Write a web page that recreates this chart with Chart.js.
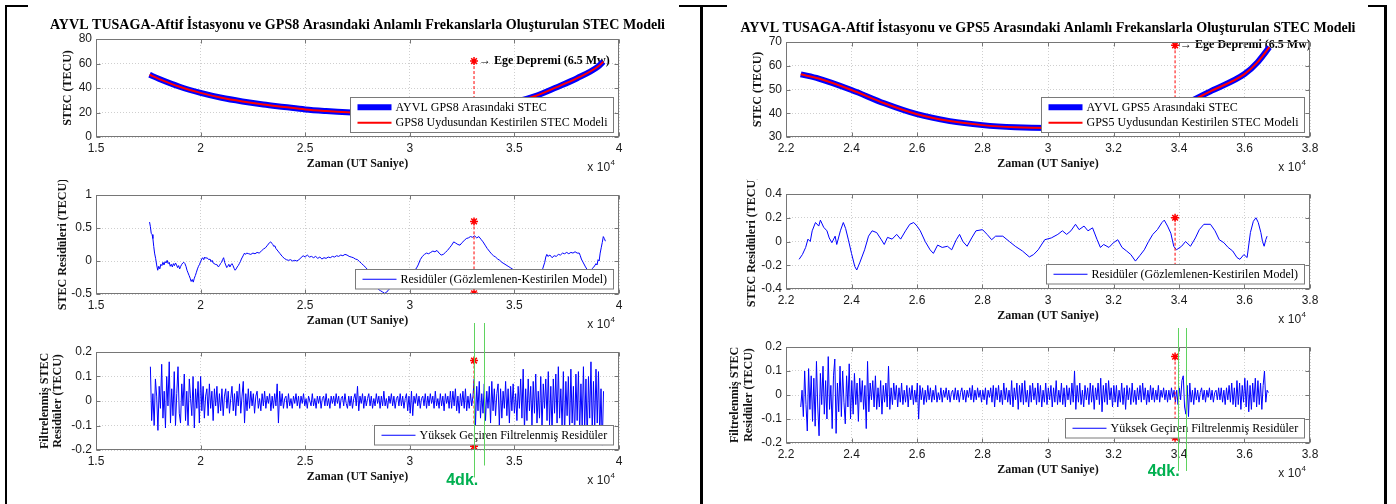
<!DOCTYPE html>
<html>
<head>
<meta charset="utf-8">
<title>STEC Modeli</title>
<script src="https://cdn.jsdelivr.net/npm/chart.js@4.4.1/dist/chart.umd.min.js"></script>
<style>
  html, body { margin: 0; padding: 0; background: #fff; }
  body { position: relative; width: 1396px; height: 504px; overflow: hidden; }
  canvas { position: absolute; }
  .cizgi { position: absolute; background: #000; z-index: 5; }
</style>
</head>
<body>
<canvas id="sol1"></canvas>
<canvas id="sol2"></canvas>
<canvas id="sol3"></canvas>
<canvas id="sag1"></canvas>
<canvas id="sag2"></canvas>
<canvas id="sag3"></canvas>

<div class="cizgi" style="left:5px;top:5px;width:2px;height:499px"></div>
<div class="cizgi" style="left:700px;top:5px;width:3px;height:499px"></div>
<div class="cizgi" style="left:1384px;top:5px;width:3px;height:499px"></div>
<div class="cizgi" style="left:5px;top:5px;width:23px;height:2px"></div>
<div class="cizgi" style="left:679px;top:5px;width:48px;height:2px"></div>
<div class="cizgi" style="left:1368px;top:5px;width:19px;height:2px"></div>

<script>
// zaman degerleri x 10^4 UT saniye
const eqTimeL = 3.307;   // Ege depremi, GPS8 paneli
const eqTimeR = 3.388;   // Ege depremi, GPS5 paneli

// ust grafikler: STEC (TECU)
const stecTimeL  = [1.756,1.8,1.9,2.0,2.1,2.2,2.3,2.4,2.5,2.6,2.7,2.8,2.9,3.0,3.1,3.2,3.3,3.4,3.5,3.6,3.7,3.8,3.9,3.925];
const stecObsL   = [50.8,47.5,41,36,32,29,26.5,24.5,22.5,21.2,20.2,19.6,19.3,19.3,19.7,20.5,22,24.5,28.5,33.5,40.5,48,57.5,61.5];
const stecModelL = [50.8,47.5,41,36,32,29,26.5,24.5,22.5,21.2,20.2,19.6,19.3,19.3,19.7,20.5,22,24.5,28.5,33.5,40.5,48,57.5,61.5];

const stecTimeR  = [2.245,2.3,2.4,2.5,2.6,2.7,2.8,2.9,3.0,3.1,3.2,3.3,3.4,3.5,3.6,3.64,3.676];
const stecObsR   = [56.4,54.6,49.8,44.2,39.6,36.7,35.0,34.1,33.8,34.3,35.8,38.6,42.8,49.5,56.5,61.5,67.8];
const stecModelR = [56.4,54.6,49.8,44.2,39.6,36.7,35.0,34.1,33.8,34.3,35.8,38.6,42.8,49.5,56.5,61.5,67.8];

// orta grafikler: residuler [zaman, TECU]
const resL = [[1.756,0.59],[1.76,0.52],[1.764,0.42],[1.768,0.40],[1.772,0.34],[1.776,0.22],[1.78,0.12],[1.785,0.04],
  [1.79,-0.06],[1.795,-0.14],[1.8,-0.08],[1.805,-0.12],[1.81,-0.05],[1.815,-0.07],[1.82,-0.02],[1.825,-0.06],[1.83,-0.01],
  [1.835,-0.03],[1.84,0.01],[1.845,-0.04],[1.85,-0.02],[1.855,-0.08],[1.86,-0.05],[1.865,-0.09],[1.87,-0.04],[1.875,-0.07],
  [1.88,-0.03],[1.885,-0.06],[1.89,-0.10],[1.895,-0.07],[1.9,-0.12],[1.905,-0.08],[1.91,-0.05],[1.915,-0.03],[1.92,-0.02],
  [1.925,-0.04],[1.93,-0.08],[1.935,-0.14],[1.94,-0.18],[1.945,-0.22],[1.95,-0.26],[1.955,-0.31],[1.96,-0.28],[1.965,-0.32],
  [1.97,-0.26],[1.975,-0.22],[1.98,-0.17],[1.985,-0.12],[1.99,-0.08],[1.995,-0.05],[2.0,-0.01],[2.005,0.03],[2.01,0.05],
  [2.015,0.02],[2.02,0.06],[2.025,0.04],[2.03,0.05],[2.04,0.02],[2.045,0.03],[2.05,-0.01],[2.055,0.01],[2.06,-0.03],
  [2.07,-0.05],[2.08,-0.06],[2.085,-0.09],[2.09,-0.07],[2.095,-0.04],[2.1,-0.02],[2.105,0.02],[2.11,0.05],[2.115,-0.02],
  [2.12,-0.06],[2.125,-0.10],[2.13,-0.08],[2.135,-0.05],[2.14,-0.09],[2.145,-0.06],[2.15,-0.04],[2.155,-0.07],[2.16,-0.11],
  [2.165,-0.14],[2.17,-0.12],[2.175,-0.09],[2.18,-0.07],[2.185,-0.04],[2.19,-0.01],[2.195,0.03],[2.2,0.06],[2.205,0.09],
  [2.21,0.12],[2.215,0.10],[2.22,0.12],[2.23,0.11],[2.24,0.10],[2.25,0.12],[2.26,0.11],[2.27,0.13],[2.28,0.12],[2.29,0.15],
  [2.3,0.18],[2.31,0.20],[2.32,0.24],[2.33,0.28],[2.335,0.29],[2.34,0.27],[2.345,0.25],[2.35,0.22],[2.355,0.23],[2.36,0.19],
  [2.37,0.15],[2.38,0.11],[2.39,0.07],[2.4,0.04],[2.41,0.02],[2.42,0.01],[2.43,0.02],[2.44,0.0],[2.45,0.01],[2.46,0.0],
  [2.47,0.02],[2.48,0.05],[2.49,0.08],[2.5,0.06],[2.51,0.09],[2.52,0.06],[2.53,0.07],[2.54,0.05],[2.55,0.07],[2.56,0.04],
  [2.57,0.06],[2.58,0.03],[2.59,0.05],[2.6,0.04],[2.61,0.06],[2.62,0.05],[2.63,0.07],[2.64,0.06],[2.65,0.08],[2.66,0.07],
  [2.67,0.09],[2.68,0.08],[2.69,0.10],[2.7,0.09],[2.71,0.07],[2.72,0.06],[2.73,0.05],[2.74,0.03],[2.75,0.02],[2.76,-0.01],
  [2.77,-0.04],[2.78,-0.07],[2.79,-0.10],[2.8,-0.14],[2.81,-0.20],[2.82,-0.28],[2.83,-0.34],[2.84,-0.39],[2.85,-0.43],
  [2.86,-0.45],[2.87,-0.47],[2.88,-0.49],[2.89,-0.47],[2.9,-0.43],[2.91,-0.40],[2.92,-0.36],[2.93,-0.33],[2.95,-0.28],
  [2.97,-0.24],[2.99,-0.20],[3.01,-0.16],[3.03,-0.12],[3.04,-0.06],[3.05,0.02],[3.06,0.07],[3.07,0.10],[3.08,0.12],
  [3.09,0.11],[3.1,0.13],[3.11,0.15],[3.12,0.14],[3.13,0.16],[3.14,0.12],[3.15,0.09],[3.16,0.10],[3.17,0.13],[3.18,0.16],
  [3.19,0.20],[3.2,0.24],[3.21,0.29],[3.22,0.27],[3.23,0.25],[3.24,0.24],[3.25,0.28],[3.26,0.31],[3.27,0.34],[3.28,0.35],
  [3.29,0.37],[3.3,0.36],[3.31,0.38],[3.32,0.35],[3.33,0.37],[3.34,0.33],[3.35,0.29],[3.36,0.24],[3.37,0.19],[3.38,0.15],
  [3.39,0.11],[3.4,0.08],[3.41,0.06],[3.42,0.03],[3.43,0.01],[3.44,-0.02],[3.45,-0.04],[3.46,-0.06],[3.47,-0.08],
  [3.48,-0.10],[3.49,-0.12],[3.51,-0.18],[3.54,-0.24],[3.57,-0.27],[3.6,-0.24],[3.62,-0.18],[3.635,-0.12],[3.645,-0.02],
  [3.65,0.06],[3.655,0.10],[3.66,0.07],[3.67,0.09],[3.68,0.05],[3.69,0.08],[3.7,0.07],[3.71,0.10],[3.72,0.09],[3.73,0.12],
  [3.74,0.11],[3.75,0.13],[3.76,0.11],[3.77,0.13],[3.78,0.12],[3.79,0.14],[3.8,0.12],[3.81,0.12],[3.815,0.08],[3.82,0.03],
  [3.83,-0.03],[3.84,-0.09],[3.85,-0.14],[3.86,-0.16],[3.87,-0.12],[3.88,-0.09],[3.89,-0.04],[3.895,-0.06],[3.9,0.02],
  [3.905,0.0],[3.91,0.12],[3.915,0.20],[3.92,0.28],[3.925,0.37],[3.93,0.34],[3.935,0.30]];

const resR = [[2.24,-0.15],[2.25,-0.11],[2.26,-0.05],[2.267,0.02],[2.274,0.0],[2.28,0.09],[2.29,0.16],[2.3,0.13],[2.305,0.18],
  [2.315,0.12],[2.325,0.09],[2.332,0.03],[2.34,-0.01],[2.35,0.045],[2.355,-0.025],[2.366,0.09],[2.375,0.16],[2.382,0.11],
  [2.39,0.02],[2.4,-0.10],[2.41,-0.21],[2.416,-0.24],[2.425,-0.18],[2.44,-0.07],[2.452,0.045],[2.463,0.09],[2.477,0.075],
  [2.49,0.02],[2.5,-0.025],[2.51,0.035],[2.524,0.02],[2.538,0.06],[2.55,0.02],[2.565,0.09],[2.578,0.145],[2.59,0.16],
  [2.6,0.13],[2.61,0.09],[2.625,0.0],[2.64,-0.07],[2.65,-0.10],[2.663,-0.03],[2.677,-0.05],[2.693,-0.04],[2.706,-0.07],
  [2.72,0.015],[2.73,0.06],[2.74,0.0],[2.753,-0.04],[2.767,0.03],[2.78,0.09],[2.8,0.10],[2.814,0.06],[2.828,0.015],
  [2.84,0.045],[2.862,0.045],[2.882,0.0],[2.9,-0.04],[2.922,-0.08],[2.943,-0.13],[2.956,-0.11],[2.97,-0.07],[2.99,0.015],
  [3.01,0.03],[3.03,0.06],[3.044,0.09],[3.057,0.06],[3.07,0.09],[3.084,0.145],[3.095,0.10],[3.11,0.13],[3.122,0.09],
  [3.136,0.115],[3.15,0.015],[3.16,-0.05],[3.17,-0.025],[3.186,-0.05],[3.2,-0.01],[3.213,0.015],[3.226,-0.05],[3.24,-0.08],
  [3.253,-0.11],[3.267,-0.165],[3.28,-0.12],[3.294,-0.07],[3.307,0.0],[3.32,0.06],[3.334,0.10],[3.348,0.16],[3.355,0.18],
  [3.365,0.13],[3.375,0.07],[3.384,-0.04],[3.392,-0.07],[3.408,-0.04],[3.42,0.0],[3.435,-0.04],[3.45,0.03],[3.462,0.10],
  [3.476,0.145],[3.496,0.145],[3.51,0.09],[3.523,0.015],[3.537,-0.01],[3.55,-0.05],[3.564,-0.08],[3.577,-0.135],
  [3.586,-0.15],[3.598,-0.11],[3.608,-0.135],[3.618,0.075],[3.627,0.17],[3.635,0.20],[3.642,0.16],[3.65,0.075],[3.655,0.0],
  [3.66,-0.04],[3.665,0.015],[3.669,0.045]];

// alt grafikler: yuksek geciren filtrelenmis residuler (duzenli ornekleme)
const filtStartL = 1.76, filtStepL = 0.006;
const filtL = [
  0.14,-0.08,0.03,-0.10,0.09,0.02,-0.12,0.06,-0.03,0.15,-0.07,0.04,-0.11,0.10,-0.02,0.16,-0.09,0.05,-0.06,0.12,
  -0.10,0.03,0.14,-0.05,-0.09,0.07,-0.02,0.11,-0.08,0.04,-0.10,0.09,0.01,-0.06,0.10,-0.11,0.05,-0.03,0.08,-0.09,
  0.10,-0.04,0.06,-0.07,0.02,0.05,-0.06,0.07,-0.03,0.04,-0.08,0.05,-0.02,0.06,-0.05,0.03,-0.04,0.05,-0.06,0.02,
  0.05,-0.03,0.04,-0.05,0.01,0.06,-0.04,0.03,-0.06,0.04,-0.02,0.07,-0.05,0.02,0.08,-0.09,0.03,-0.04,0.05,-0.03,
  0.04,-0.02,0.03,-0.05,0.02,0.04,-0.03,0.01,-0.04,0.03,-0.02,0.04,-0.03,0.02,-0.01,0.03,-0.04,0.02,-0.03,0.03,
  -0.02,0.07,-0.09,0.04,-0.02,0.03,-0.03,0.01,0.02,-0.03,0.03,-0.02,0.01,-0.03,0.02,-0.01,0.03,-0.02,0.02,-0.03,
  0.02,-0.01,0.03,-0.02,0.01,-0.03,0.02,0.00,-0.02,0.03,-0.02,0.01,-0.03,0.02,-0.01,0.02,-0.03,0.01,0.02,-0.02,
  0.03,-0.02,0.01,-0.03,0.02,-0.01,0.02,-0.02,0.03,-0.01,0.02,-0.03,0.01,0.02,-0.02,0.03,-0.01,-0.03,0.02,-0.02,
  0.02,-0.03,0.01,0.03,-0.02,0.06,-0.04,0.02,-0.01,0.03,-0.03,0.02,-0.02,0.01,0.03,-0.02,0.02,-0.03,0.01,-0.02,
  0.03,-0.01,0.02,-0.03,0.02,-0.02,0.04,-0.02,0.01,-0.03,0.02,-0.01,0.03,-0.02,0.02,-0.03,0.01,0.02,-0.02,0.03,
  -0.02,0.02,-0.03,0.01,0.03,-0.04,0.02,-0.05,0.04,-0.06,0.02,-0.01,0.03,-0.02,0.02,-0.03,0.01,0.02,-0.02,0.03,
  -0.03,0.02,-0.02,0.03,-0.01,0.02,-0.03,0.04,-0.02,0.01,-0.03,0.03,-0.02,0.02,-0.04,0.03,-0.01,0.02,-0.03,0.04,
  -0.03,0.04,-0.02,0.05,-0.04,0.02,-0.05,0.03,-0.02,0.04,-0.03,0.05,-0.04,0.02,-0.03,0.03,-0.02,0.02,0.09,-0.10,
  0.06,-0.04,0.08,-0.07,0.03,-0.05,0.07,-0.08,0.04,-0.03,0.06,-0.09,0.08,-0.04,0.05,-0.06,0.03,0.07,-0.10,0.05,
  -0.07,0.04,-0.03,0.08,-0.06,0.05,-0.09,0.06,-0.04,0.07,-0.05,0.03,-0.08,0.06,-0.03,0.09,-0.07,0.13,-0.12,0.05,
  -0.08,0.09,-0.04,0.06,-0.10,0.08,-0.05,0.11,-0.09,0.04,-0.07,0.10,-0.12,0.07,-0.03,0.09,-0.08,0.12,-0.10,0.06,
  -0.13,0.09,-0.05,0.11,-0.09,0.14,-0.07,0.05,-0.11,0.12,-0.14,0.08,-0.06,0.10,-0.12,0.13,-0.09,0.06,-0.15,0.11,
  -0.08,0.12,-0.13,0.07,-0.10,0.14,-0.12,0.09,-0.16,0.10,-0.07,0.16,-0.13,0.08,-0.11,0.13,-0.09,0.12,-0.14,0.05,
  -0.18,0.04];

const filtStartR = 2.245, filtStepR = 0.004;
const filtR = [
  -0.05,0.02,-0.09,0.10,-0.04,-0.15,0.11,-0.06,0.08,-0.11,0.07,-0.13,0.14,-0.05,-0.17,0.09,-0.04,0.12,-0.08,0.06,
  -0.10,0.16,-0.06,0.04,-0.14,0.08,0.15,-0.16,0.05,-0.07,0.12,-0.09,0.10,-0.03,-0.12,0.08,-0.05,0.13,-0.10,0.06,
  -0.08,0.09,-0.04,0.05,-0.11,0.07,-0.03,0.06,-0.06,0.04,-0.14,0.14,-0.07,0.05,-0.02,0.06,-0.05,0.08,-0.06,0.03,
  -0.05,0.06,-0.08,0.04,-0.03,0.05,-0.05,0.12,-0.06,0.03,-0.04,0.05,-0.02,0.04,-0.05,0.03,-0.03,0.05,-0.04,0.02,
  -0.03,0.04,-0.05,0.03,-0.02,0.04,-0.04,0.02,-0.03,0.05,-0.10,0.04,-0.02,0.03,-0.04,0.02,-0.03,0.04,-0.02,0.03,
  -0.03,0.02,-0.02,0.04,-0.03,0.01,-0.02,0.03,-0.03,0.02,-0.01,0.03,-0.02,0.02,-0.03,0.01,0.02,-0.02,0.03,-0.02,
  0.02,-0.03,0.01,0.03,-0.02,0.02,-0.03,0.02,-0.01,0.03,-0.02,0.04,-0.03,0.02,-0.02,0.03,-0.01,0.02,-0.03,0.02,
  -0.02,0.03,-0.04,0.02,-0.01,0.03,-0.03,0.04,-0.05,0.03,-0.02,0.04,-0.03,0.02,-0.04,0.05,-0.02,0.03,-0.03,0.02,
  -0.04,0.06,-0.05,0.03,-0.02,0.05,-0.06,0.04,-0.03,0.05,-0.04,0.06,-0.03,0.02,-0.05,0.04,-0.03,0.05,-0.02,0.03,
  -0.04,0.05,-0.03,0.04,-0.05,0.02,-0.03,0.05,-0.04,0.03,-0.02,0.04,-0.05,0.03,-0.03,0.06,-0.04,0.02,-0.03,0.05,
  -0.04,0.03,-0.05,0.04,-0.02,0.03,-0.04,0.05,-0.03,0.10,-0.06,0.04,-0.03,0.05,-0.04,0.02,-0.05,0.04,-0.02,0.03,
  -0.04,0.05,-0.03,0.04,-0.06,0.03,-0.02,0.05,-0.04,0.07,-0.07,0.04,-0.03,0.05,-0.04,0.06,-0.02,0.03,-0.05,0.04,
  -0.03,0.04,-0.05,0.02,-0.03,0.05,-0.04,0.03,-0.06,0.04,-0.02,0.03,-0.04,0.05,-0.03,0.02,-0.04,0.03,-0.02,0.04,
  -0.03,0.05,-0.02,0.03,-0.04,0.02,-0.03,0.04,-0.02,0.03,-0.03,0.02,-0.02,0.04,-0.03,0.02,-0.01,0.03,-0.02,0.02,
  -0.03,0.02,-0.02,0.03,-0.01,0.02,-0.03,0.02,-0.04,0.03,-0.02,0.06,0.08,-0.05,-0.08,0.04,-0.09,0.05,-0.03,0.02,
  -0.04,0.03,-0.02,0.02,-0.03,0.01,0.03,-0.02,0.02,-0.03,0.02,-0.01,0.03,-0.02,0.02,-0.03,0.01,0.02,-0.02,0.03,
  -0.02,0.03,-0.03,0.02,-0.04,0.03,-0.02,0.04,-0.03,0.05,-0.04,0.03,-0.05,0.06,-0.04,0.05,-0.06,0.04,-0.03,0.07,
  -0.05,0.06,-0.07,0.04,-0.06,0.05,-0.03,0.07,-0.05,0.06,-0.04,0.05,-0.06,0.04,0.10,-0.03,0.02,0.01];

// deprem isaretleri (yildiz uclari, TECU)
const eqMarkL1 = [62, 22],   eqMarkL2 = [0.6, -0.49],  eqMarkL3 = [0.165, -0.185];
const eqMarkR1 = [68.6, 40], eqMarkR2 = [0.2, -0.3],   eqMarkR3 = [0.16, -0.178];
// 4 dakikalik pencere
const winL = [3.308, 3.354];
const winR = [3.396, 3.4205];

const SERIF = "'Liberation Serif', 'Times New Roman', serif";
const SANS = "'Liberation Sans', Arial, sans-serif";
const MAVI = '#0000ff', KIRMIZI = '#ff0000', YESIL = '#5fd35f';

function ciftler(p) { return p.map(v => ({ x: v[0], y: v[1] })); }
function birlestir(xs, ys) { return xs.map((x, i) => ({ x: x, y: ys[i] })); }
function duzenli(bas, adim, d) { return d.map((v, i) => ({ x: bas + i * adim, y: v })); }

function depremCizgisi(t, uclar, yaricap) {
  return {
    data: [{ x: t, y: uclar[0] }, { x: t, y: uclar[1] }],
    borderColor: KIRMIZI, borderWidth: 1, borderDash: [3, 2],
    pointStyle: 'star', pointRadius: yaricap, pointBorderColor: KIRMIZI,
    pointBorderWidth: 1.5, pointBackgroundColor: KIRMIZI
  };
}

function etiket(v) { return String(Math.round(v * 100) / 100); }

// MATLAB gorunumu: kutu, ic tikler, lejant, baslik, x 10^4
function matlabSus(ayar) {
  return {
    id: 'matlabSus',
    beforeDatasetsDraw(chart) {
      if (!ayar.deprem) return;
      const { ctx, scales: { x, y } } = chart;
      ctx.save();
      ctx.font = 'bold 12px ' + SERIF;
      ctx.fillStyle = '#000';
      ctx.textBaseline = 'middle';
      ctx.textAlign = 'left';
      ctx.fillText('\u2192 Ege Depremi (6.5 Mw)', x.getPixelForValue(ayar.deprem[0]) + 5, y.getPixelForValue(ayar.deprem[1]));
      ctx.restore();
    },
    afterDatasetsDraw(chart) {
      const { ctx, chartArea: a, scales: { x, y } } = chart;
      ctx.save();
      ctx.strokeStyle = '#767676';
      ctx.lineWidth = 1;
      const L = Math.round(a.left) + 0.5, R = Math.round(a.right) - 0.5;
      const T = Math.round(a.top) + 0.5, B = Math.round(a.bottom) - 0.5;
      ctx.strokeRect(L, T, R - L, B - T);
      ctx.beginPath();
      x.ticks.forEach(t => {
        const p = Math.round(x.getPixelForValue(t.value)) + 0.5;
        ctx.moveTo(p, B); ctx.lineTo(p, B - 4);
        ctx.moveTo(p, T); ctx.lineTo(p, T + 4);
      });
      y.ticks.forEach(t => {
        const p = Math.round(y.getPixelForValue(t.value)) + 0.5;
        ctx.moveTo(L, p); ctx.lineTo(L + 4, p);
        ctx.moveTo(R, p); ctx.lineTo(R - 4, p);
      });
      ctx.stroke();

      // lejant (sag alt, ic)
      const lj = ayar.lejant;
      ctx.font = '12px ' + SERIF;
      const tw = Math.max(...lj.map(e => ctx.measureText(e.label).width));
      const w = Math.round(45 + tw + 6), h = 4 + 15.5 * lj.length;
      const bx = Math.round(a.right - 6.5 - w) + 0.5, by = Math.round(a.bottom - 5.5 - h) + 0.5;
      ctx.fillStyle = '#fff';
      ctx.fillRect(bx, by, w, h);
      ctx.strokeStyle = '#7a7a7a';
      ctx.strokeRect(bx, by, w, h);
      lj.forEach((e, i) => {
        const cy = by + 9.75 + 15.5 * i;
        ctx.strokeStyle = e.color;
        ctx.lineWidth = e.width;
        ctx.beginPath(); ctx.moveTo(bx + 7, cy); ctx.lineTo(bx + 41, cy); ctx.stroke();
        ctx.fillStyle = '#000';
        ctx.textBaseline = 'middle';
        ctx.textAlign = 'left';
        ctx.fillText(e.label, bx + 45, cy + 0.5);
      });
      ctx.restore();
    },
    afterDraw(chart) {
      const { ctx, chartArea: a, scales: { x } } = chart;
      ctx.save();
      ctx.fillStyle = '#222';
      ctx.textBaseline = 'middle';
      ctx.font = '8px ' + SANS;
      const sw = ctx.measureText('4').width;
      ctx.textAlign = 'left';
      ctx.fillText('4', a.right - 4 - sw, a.bottom + 26);
      ctx.font = '12px ' + SANS;
      ctx.textAlign = 'right';
      ctx.fillText('x 10', a.right - 4.5 - sw, a.bottom + 31);

      if (ayar.baslik) {
        ctx.font = 'bold 100px ' + SERIF;
        const w100 = ctx.measureText(ayar.baslik).width;
        ctx.font = 'bold ' + (100 * 615 / w100).toFixed(2) + 'px ' + SERIF;
        ctx.fillStyle = '#000';
        ctx.textAlign = 'center';
        ctx.fillText(ayar.baslik, (a.left + a.right) / 2, a.top - 14);
      }

      if (ayar.pencere) {
        const p = ayar.pencere;
        ctx.strokeStyle = YESIL;
        ctx.lineWidth = 1;
        p.x.forEach((v, i) => {
          const px = Math.round(x.getPixelForValue(v)) + 0.5;
          ctx.beginPath(); ctx.moveTo(px, a.top + p.ust); ctx.lineTo(px, a.bottom + p.alt[i]); ctx.stroke();
        });
        ctx.font = 'bold 16px ' + SANS;
        ctx.fillStyle = '#00b050';
        ctx.textAlign = 'right';
        ctx.fillText('4dk.', x.getPixelForValue(p.x[0]) + p.dx, a.bottom + p.dy);
      }
      ctx.restore();
    }
  };
}

function grafik(id, alan, ayar) {
  const padTop = ayar.padTop, padBottom = ayar.padBottom || 0;
  const cv = document.getElementById(id);
  cv.width = (alan.r - alan.l) + 90 + 70;
  cv.height = padTop + (alan.b - alan.t) + 40 + padBottom;
  cv.style.left = (alan.l - 90) + 'px';
  cv.style.top = (alan.t - padTop) + 'px';
  const tikFont = { family: SANS, size: 12 };
  return new Chart(cv, {
    type: 'line',
    data: { datasets: ayar.datasets },
    options: {
      responsive: false,
      animation: false,
      layout: { padding: { left: 0, right: 70, top: padTop, bottom: padBottom } },
      plugins: { legend: { display: false }, tooltip: { enabled: false } },
      elements: { point: { radius: 0 }, line: { tension: 0 } },
      scales: {
        x: {
          type: 'linear', min: ayar.x[0], max: ayar.x[1],
          ticks: { stepSize: ayar.x[2], padding: 4, font: tikFont, color: '#1a1a1a', callback: etiket, autoSkip: false, maxRotation: 0 },
          grid: { color: '#cfcfcf', drawTicks: false },
          border: { display: false, dash: [1, 2] },
          title: { display: true, text: 'Zaman (UT Saniye)', color: '#111',
                   font: { family: SERIF, size: 12, weight: 'bold', lineHeight: 1.2 }, padding: { top: 0, bottom: 6.3 } },
          afterFit(s) { s.height = 40; }
        },
        y: {
          type: 'linear', min: ayar.y[0], max: ayar.y[1],
          ticks: { stepSize: ayar.y[2], padding: 4, font: tikFont, color: '#1a1a1a', callback: etiket },
          grid: { color: '#cfcfcf', drawTicks: false },
          border: { display: false, dash: [1, 2] },
          title: { display: true, text: ayar.yBaslik, color: '#111',
                   font: { family: SERIF, size: 12, weight: 'bold', lineHeight: 1.12 }, padding: { top: ayar.yBaslikX - 6.72, bottom: 0 } },
          afterFit(s) { s.width = 90; }
        }
      }
    },
    plugins: [matlabSus(ayar)]
  });
}

const baslikL = 'AYVL TUSAGA-Aftif \u0130stasyonu ve GPS8 Aras\u0131ndaki Anlaml\u0131 Frekanslarla Olu\u015fturulan STEC Modeli';
const baslikR = 'AYVL TUSAGA-Aftif \u0130stasyonu ve GPS5 Aras\u0131ndaki Anlaml\u0131 Frekanslarla Olu\u015fturulan STEC Modeli';
const resLabel = 'Resid\u00fcler (G\u00f6zlemlenen-Kestirilen Model)';
const filtLabel = 'Y\u00fcksek Ge\u00e7iren Filtrelenmi\u015f Resid\u00fcler';
const filtYTitle = ['Filtrelenmi\u015f STEC', 'Resid\u00fcler (TECU)'];

// ---- sol panel (GPS8) ----
grafik('sol1', { l: 96, r: 619, t: 39, b: 137 }, {
  padTop: 39, x: [1.5, 4, 0.5], y: [0, 80, 20], yBaslik: 'STEC (TECU)', yBaslikX: 62,
  baslik: baslikL, deprem: [eqTimeL, eqMarkL1[0]],
  datasets: [
    depremCizgisi(eqTimeL, eqMarkL1, [4, 0]),
    { data: birlestir(stecTimeL, stecModelL), borderColor: KIRMIZI, borderWidth: 2, cubicInterpolationMode: 'monotone' },
    { data: birlestir(stecTimeL, stecObsL), borderColor: MAVI, borderWidth: 6, cubicInterpolationMode: 'monotone' }
  ],
  lejant: [
    { label: 'AYVL GPS8 Aras\u0131ndaki STEC', color: MAVI, width: 6 },
    { label: 'GPS8 Uydusundan Kestirilen STEC Modeli', color: KIRMIZI, width: 2 }
  ]
});

grafik('sol2', { l: 96, r: 619, t: 195, b: 294 }, {
  padTop: 15, x: [1.5, 4, 0.5], y: [-0.5, 1, 0.5], yBaslik: 'STEC Resid\u00fcleri (TECU)', yBaslikX: 56.5,
  datasets: [
    depremCizgisi(eqTimeL, eqMarkL2, [4, 4]),
    { data: ciftler(resL), borderColor: MAVI, borderWidth: 1 }
  ],
  lejant: [{ label: resLabel, color: MAVI, width: 1 }]
});

grafik('sol3', { l: 96, r: 619, t: 352, b: 450 }, {
  padTop: 32, padBottom: 16, x: [1.5, 4, 0.5], y: [-0.2, 0.2, 0.1], yBaslik: filtYTitle, yBaslikX: 38.6,
  datasets: [
    depremCizgisi(eqTimeL, eqMarkL3, [4, 4]),
    { data: duzenli(filtStartL, filtStepL, filtL), borderColor: MAVI, borderWidth: 1 }
  ],
  lejant: [{ label: filtLabel, color: MAVI, width: 1 }],
  pencere: { x: winL, ust: -29, alt: [27.5, 15.5], dx: 4, dy: 31 }
});

// ---- sag panel (GPS5) ----
grafik('sag1', { l: 786, r: 1310, t: 42, b: 137 }, {
  padTop: 42, x: [2.2, 3.8, 0.2], y: [30, 70, 10], yBaslik: 'STEC (TECU)', yBaslikX: 62.3,
  baslik: baslikR, deprem: [eqTimeR, eqMarkR1[0]],
  datasets: [
    depremCizgisi(eqTimeR, eqMarkR1, [4, 0]),
    { data: birlestir(stecTimeR, stecModelR), borderColor: KIRMIZI, borderWidth: 2, cubicInterpolationMode: 'monotone' },
    { data: birlestir(stecTimeR, stecObsR), borderColor: MAVI, borderWidth: 6, cubicInterpolationMode: 'monotone' }
  ],
  lejant: [
    { label: 'AYVL GPS5 Aras\u0131ndaki STEC', color: MAVI, width: 6 },
    { label: 'GPS5 Uydusundan Kestirilen STEC Modeli', color: KIRMIZI, width: 2 }
  ]
});

grafik('sag2', { l: 786, r: 1310, t: 194, b: 289 }, {
  padTop: 15, x: [2.2, 3.8, 0.2], y: [-0.4, 0.4, 0.2], yBaslik: 'STEC Resid\u00fcleri (TECU)', yBaslikX: 56,
  datasets: [
    depremCizgisi(eqTimeR, eqMarkR2, [4, 0]),
    { data: ciftler(resR), borderColor: MAVI, borderWidth: 1 }
  ],
  lejant: [{ label: resLabel, color: MAVI, width: 1 }]
});

grafik('sag3', { l: 786, r: 1310, t: 347, b: 443 }, {
  padTop: 22, padBottom: 16, x: [2.2, 3.8, 0.2], y: [-0.2, 0.2, 0.1], yBaslik: filtYTitle, yBaslikX: 39.4,
  datasets: [
    depremCizgisi(eqTimeR, eqMarkR3, [4, 4]),
    { data: duzenli(filtStartR, filtStepR, filtR), borderColor: MAVI, borderWidth: 1 }
  ],
  lejant: [{ label: filtLabel, color: MAVI, width: 1 }],
  pencere: { x: winR, ust: -19, alt: [28, 28], dx: 2, dy: 28.5 }
});
</script>
</body>
</html>
